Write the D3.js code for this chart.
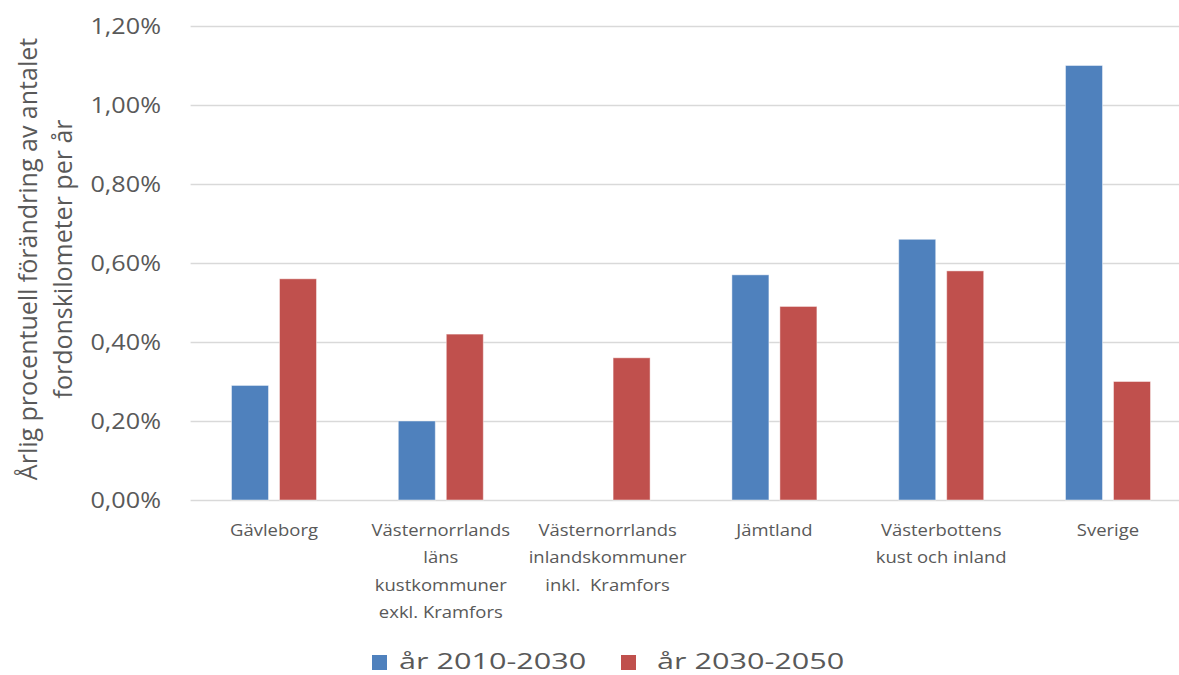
<!DOCTYPE html>
<html>
<head>
<meta charset="utf-8">
<script src="https://cdn.jsdelivr.net/npm/d3@7/dist/d3.min.js"></script>
<style>
  html, body { margin: 0; padding: 0; background: #fff; }
  svg { display: block; }
  text { font-family: "Open Sans", "DejaVu Sans", sans-serif; fill: #595959; white-space: pre; }
</style>
</head>
<body>
<svg id="chart" width="1179" height="675"></svg>
<script>
// Regions (category labels, split into display lines)
const categories = [
  "Gävleborg",
  "Västernorrlands läns kustkommuner exkl. Kramfors",
  "Västernorrlands inlandskommuner inkl. Kramfors",
  "Jämtland",
  "Västerbottens kust och inland",
  "Sverige"
];
const categoryLines = [
  ["Gävleborg"],
  ["Västernorrlands", "läns", "kustkommuner", "exkl. Kramfors"],
  ["Västernorrlands", "inlandskommuner", "inkl.  Kramfors"],
  ["Jämtland"],
  ["Västerbottens", "kust och inland"],
  ["Sverige"]
];

// Series: annual percentage change (as fractions)
const seriesNames = ["år 2010-2030", "år 2030-2050"];
const values2010_2030 = [0.0029, 0.0020, 0.0000, 0.0057, 0.0066, 0.0110];
const values2030_2050 = [0.0056, 0.0042, 0.0036, 0.0049, 0.0058, 0.0030];
const seriesColors = ["#4F81BD", "#C0504D"];

// Y axis ticks
const yTicks = [0, 0.002, 0.004, 0.006, 0.008, 0.010, 0.012];
const yTitleLines = ["Årlig procentuell förändring av antalet", "fordonskilometer per år"];

const svg = d3.select("#chart");
const W = 1179, H = 675;
const plot = { left: 190.6, right: 1191.4, top: 26, bottom: 500 };

const x = d3.scaleBand().domain(categories).range([plot.left, plot.right]).padding(0);
const bw = x.bandwidth();
const x1 = d3.scaleBand().domain(seriesNames)
  .range([bw / 2 - 42.5, bw / 2 + 42.5]).paddingInner(0.229).paddingOuter(0);
const y = d3.scaleLinear().domain([0, 0.012]).range([plot.bottom, plot.top]);

const fmt = v => (v * 100).toFixed(2).replace(".", ",") + "%";
const sx = 1.12; // horizontal text stretch

// Gridlines
const yAxis = d3.axisLeft(y).tickValues(yTicks).tickSize(-(W - plot.left)).tickFormat("");
const gGrid = svg.append("g").attr("transform", `translate(${plot.left},0)`).call(yAxis);
gGrid.select(".domain").remove();
gGrid.selectAll(".tick line").attr("stroke", "#d9d9d9").attr("stroke-width", 1.5);

// Tick labels
svg.append("g").selectAll("text").data(yTicks).join("text")
  .attr("transform", d => `translate(161,${y(d)}) scale(${sx},1)`)
  .attr("text-anchor", "end")
  .attr("dy", "0.36em")
  .style("font-size", "22.5px")
  .text(fmt);

// Bars
const rows = categories.map((c, i) => ({
  cat: c,
  vals: [values2010_2030[i], values2030_2050[i]]
}));
const groups = svg.append("g").selectAll("g").data(rows).join("g")
  .attr("transform", d => `translate(${x(d.cat)},0)`);
groups.selectAll("rect")
  .data(d => d.vals.map((v, j) => ({ s: seriesNames[j], v, j })).filter(e => e.v > 0))
  .join("rect")
  .attr("x", e => x1(e.s))
  .attr("width", x1.bandwidth())
  .attr("y", e => y(e.v))
  .attr("height", e => y(0) - y(e.v))
  .attr("fill", e => seriesColors[e.j])
  .attr("stroke", "#ffffff")
  .attr("stroke-opacity", 0.45)
  .attr("stroke-width", 1);

// Category labels
const catText = svg.append("g").selectAll("text").data(categories).join("text")
  .attr("transform", d => `translate(${x(d) + bw / 2},536) scale(${sx},1)`)
  .attr("text-anchor", "middle")
  .style("font-size", "16.5px");
catText.each(function (d, i) {
  d3.select(this).selectAll("tspan").data(categoryLines[i]).join("tspan")
    .attr("x", 0)
    .attr("y", (l, k) => k * 27.5)
    .text(l => l);
});

// Y axis title
const yTitle = svg.append("text")
  .attr("transform", `translate(0,259) rotate(-90)`)
  .attr("text-anchor", "middle")
  .style("font-size", "25px");
yTitle.selectAll("tspan").data(yTitleLines).join("tspan")
  .attr("x", 0)
  .attr("y", (l, k) => 37 + k * 35)
  .text(l => l);

// Legend
const legendX = [372, 621];
const legendTextDx = [27, 36];
const legend = svg.append("g").selectAll("g").data(seriesNames).join("g")
  .attr("transform", (d, i) => `translate(${legendX[i]},655)`);
legend.append("rect").attr("width", 15).attr("height", 15)
  .attr("fill", (d, i) => seriesColors[i]);
legend.append("text")
  .attr("transform", (d, i) => `translate(${legendTextDx[i]},14) scale(1.36,1)`)
  .style("font-size", "22.5px")
  .text(d => d);
</script>
</body>
</html>
